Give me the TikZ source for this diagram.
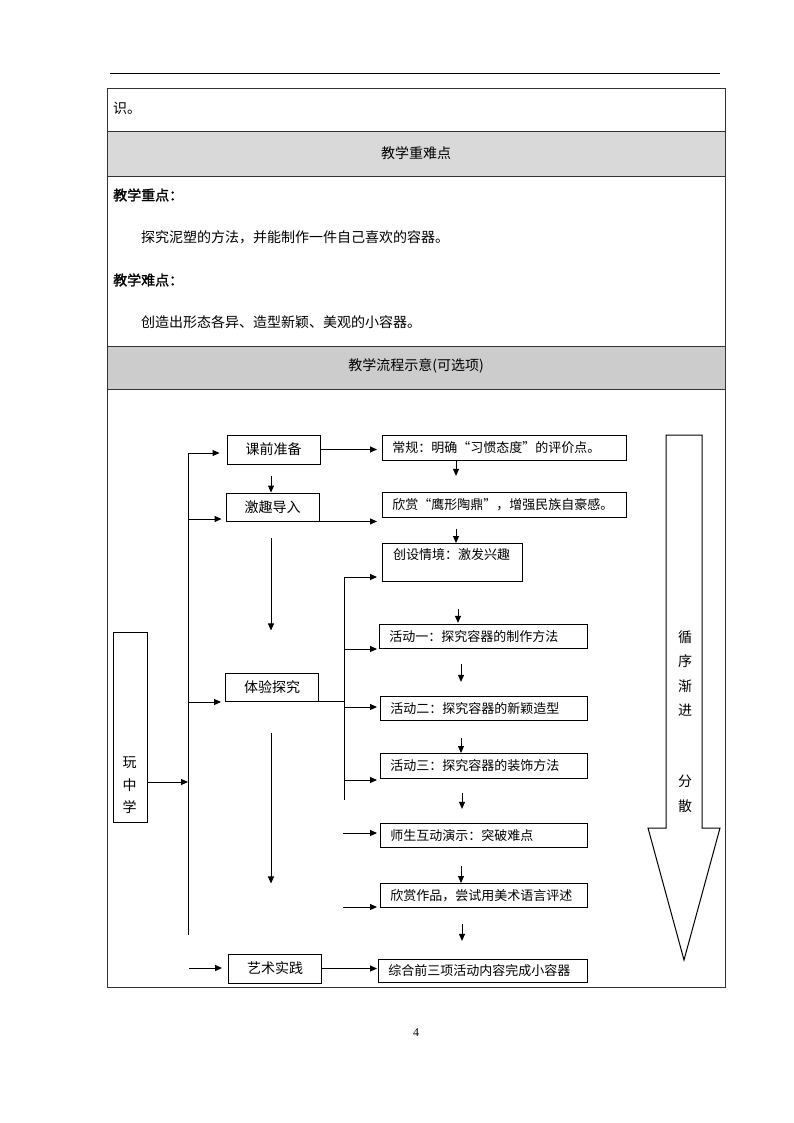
\documentclass[tikz,border=0pt]{standalone}
\usepackage{fontspec}
\usepackage{tikz}
\usetikzlibrary{arrows.meta,positioning,calc}
\newfontfamily\cjk[AutoFakeBold=1.5]{Noto Sans CJK SC}
\newfontfamily\pagefont{Liberation Serif}
\definecolor{hdgray}{RGB}{217,217,217}
\definecolor{hdgraydk}{RGB}{204,204,204}

\begin{document}
\begin{tikzpicture}[x=1pt,y=-1pt,
    txt/.style={font=\cjk\fontsize{14}{16}\selectfont, inner sep=0pt},
    lbox/.style={draw, line width=0.9pt, minimum width=93pt, minimum height=29pt, inner sep=0pt, font=\cjk\fontsize{14}{16}\selectfont},
    rbox/.style={draw, line width=0.9pt, anchor=north west, inner xsep=10pt, inner ysep=0pt, align=left, font=\cjk\fontsize{13}{15}\selectfont},
    arr/.style={-{Triangle[length=7pt,width=6pt]}, line width=0.9pt},
    ln/.style={line width=0.9pt},
    grid/.style={line width=0.9pt, draw=black!80}
  ]
  \useasboundingbox (0,0) rectangle (794,1123);

  % page rule and table
  \draw[line width=1pt] (110,74) -- (720,74);
  \fill[hdgray] (107,131) rectangle (725,176);
  \fill[hdgraydk] (107,346) rectangle (725,389);
  \draw[grid] (107,88) rectangle (725,987);
  \foreach \y in {131,176,346,389}
    \draw[grid] (107,\y) -- (725,\y);

  \node[txt, anchor=west] (t0) at (113,108) {识。};
  \node[txt] (h1) at (416,153) {教学重难点};
  \node[txt, anchor=west] (zd) at (113,195) {\bfseries 教学重点：};
  \node[txt, anchor=west] (zdt) at (141,237) {探究泥塑的方法，并能制作一件自己喜欢的容器。};
  \node[txt, anchor=west] (nd) at (113,280) {\bfseries 教学难点：};
  \node[txt, anchor=west] (ndt) at (141,322) {创造出形态各异、造型新颖、美观的小容器。};
  \node[txt] (h2) at (416,366) {教学流程示意(可选项)};

  % left column
  \node[draw, line width=0.9pt, minimum width=34pt, minimum height=190pt] (wzx) at (130,727) {};
  \node[txt, align=center, font=\cjk\fontsize{14}{22.5}\selectfont] (wzxt) at (129.5,785.5) {玩\\中\\学};

  \node[lbox] (kqzb) at (273.5,449.5) {课前准备\hspace{18pt}};
  \node[lbox, minimum height=28pt] (jqdr) at (272.5,507) {激趣导入};
  \node[lbox, minimum height=28pt] (tyts) at (272,687) {体验探究};
  \node[lbox] (yssj) at (275,968.5) {艺术实践};

  \coordinate (tk1) at (188,453);
  \coordinate (tk2) at (188,519);
  \coordinate (tk3) at (188,702);
  \coordinate (tkin) at (188,782);
  \coordinate (tk4) at (188,935);
  \coordinate (ysin) at (189,968);

  \draw[ln] (tk1) -- (tk4);
  \draw[arr] (wzx.east |- tkin) -- (tkin);
  \draw[arr, shorten >=7pt] (tk1) -- (tk1 -| kqzb.west);
  \draw[arr, shorten >=4pt] (tk2) -- (tk2 -| jqdr.west);
  \draw[arr, shorten >=4pt] (tk3) -- (tk3 -| tyts.west);
  \draw[arr, shorten >=6pt] (ysin) -- (ysin -| yssj.west);

  \draw[arr] ($(kqzb.south)+(-2.5,12)$) -- ($(jqdr.north)+(-1.5,0)$);
  \draw[arr] ($(jqdr.south)+(-1.5,17)$) -- ++(0,92);
  \draw[arr] ($(tyts.south)+(-1,32)$) -- ++(0,150);

  % right column
  \node[rbox, text width=224pt, minimum height=25pt] (cg) at (382,435) {常规：明确“习惯态度”的评价点。};
  \node[rbox, text width=224pt, minimum height=25pt] (xs) at (382,492) {欣赏“鹰形陶鼎”，增强民族自豪感。};
  \node[rbox, minimum width=140pt, minimum height=38pt] (cs) at (382,543) {};
  \node[anchor=west, inner sep=0pt, font=\cjk\fontsize{13}{15}\selectfont] (cst) at (393,555) {创设情境：激发兴趣};
  \node[rbox, text width=188pt, minimum height=24pt] (hd1) at (379,624) {活动一：探究容器的制作方法};
  \node[rbox, text width=187pt, minimum height=24pt] (hd2) at (380,696) {活动二：探究容器的新颖造型};
  \node[rbox, text width=187pt, minimum height=25pt] (hd3) at (380,753) {活动三：探究容器的装饰方法};
  \node[rbox, text width=187pt, minimum height=24pt] (ss) at (380,823) {师生互动演示：突破难点};
  \node[rbox, text width=187pt, minimum height=24pt] (xszp) at (380,883) {欣赏作品，尝试用美术语言评述};
  \node[rbox, text width=189pt, minimum height=23pt] (zh) at (378,959) {综合前三项活动内容完成小容器};

  \draw[arr, shorten >=5pt] (kqzb.east) -- (kqzb.east -| cg.west);
  \draw[arr, shorten >=5pt] (jqdr.south east) -- (jqdr.south east -| xs.west);

  \coordinate (rt1) at (344,577);
  \coordinate (rt2) at (344,800);
  \coordinate (rb1) at (344,649);
  \coordinate (rb2) at (344,707);
  \coordinate (rb3) at (344,780);
  \coordinate (rb4) at (343,833);
  \coordinate (rb5) at (343,907);

  \draw[ln] (rt1) -- (rt2);
  \draw[ln] (tyts.south east) -- (tyts.south east -| rt1);
  \draw[arr, shorten >=5pt] (rt1) -- (rt1 -| cs.west);
  \draw[arr, shorten >=2pt] (rb1) -- (rb1 -| hd1.west);
  \draw[arr, shorten >=3pt] (rb2) -- (rb2 -| hd2.west);
  \draw[arr, shorten >=3pt] (rb3) -- (rb3 -| hd3.west);
  \draw[arr, shorten >=3pt] (rb4) -- (rb4 -| ss.west);
  \draw[arr, shorten >=3pt] (rb5) -- (rb5 -| xszp.west);
  \draw[arr, shorten >=1pt] (yssj.east) -- (yssj.east -| zh.west);

  \draw[arr] ($(cg.south west)+(74,0)$) -- ++(0,15);
  \draw[arr] ($(xs.south west)+(74,11)$) -- ($(cs.north west)+(74,0)$);
  \draw[arr] ($(cs.south west)+(76,27)$) -- ++(0,14);
  \draw[arr] ($(hd1.south west)+(82,15)$) -- ++(0,18);
  \draw[arr] ($(hd2.south west)+(81,17)$) -- ($(hd3.north west)+(81,0)$);
  \draw[arr] ($(hd3.south west)+(82,14)$) -- ++(0,16);
  \draw[arr] ($(ss.south west)+(81,18)$) -- ($(xszp.north west)+(81,0)$);
  \draw[arr] ($(xszp.south west)+(82,16)$) -- ++(0,17);

  % big arrow on the right
  \draw[line width=1pt] (666,435) -- (702,435) -- (702,828) -- (720,828) -- (684,960)
    -- (648,828) -- (666,828) -- cycle;
  \node[txt, align=center, font=\cjk\fontsize{14}{24.3}\selectfont] (xxjj) at (685,673.5) {循\\序\\渐\\进};
  \node[txt, align=center, font=\cjk\fontsize{14}{25}\selectfont] (fs) at (685,793.5) {分\\散};

  \node[font=\pagefont\fontsize{12}{14}\selectfont, inner sep=0pt] (pnum) at (416,1033) {4};
\end{tikzpicture}
\end{document}
